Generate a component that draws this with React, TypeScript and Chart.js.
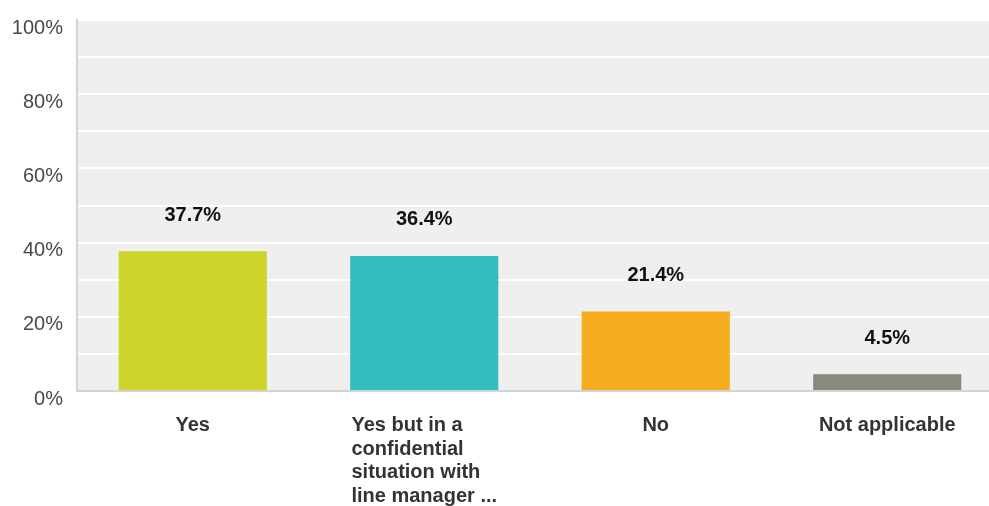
import React, { useEffect, useRef } from "react";
import { Chart, registerables } from "chart.js";

Chart.register(...registerables);

const categories: string[][] = [
  ["Yes"],
  ["Yes but in a", "confidential", "situation with", "line manager ..."],
  ["No"],
  ["Not applicable"],
];
const values: number[] = [37.7, 36.4, 21.4, 4.5];
const barColors: string[] = ["#CDD42A", "#33BDBF", "#F5AD1F", "#898A7A"];
const yTickStep = 10;
const yLabelEvery = 20;

const FONT = "'Liberation Sans', Arial, sans-serif";

const bgPlugin = {
  id: "plotBg",
  beforeDraw(chart: any) {
    const { ctx, chartArea } = chart;
    if (!chartArea) return;
    ctx.save();
    ctx.fillStyle = "#EFEFEF";
    ctx.fillRect(chartArea.left, chartArea.top - 1, chartArea.right - chartArea.left, chartArea.bottom - chartArea.top + 1);
    ctx.restore();
  },
};

const valueLabelPlugin = {
  id: "valueLabels",
  afterDatasetsDraw(chart: any) {
    const { ctx } = chart;
    const meta = chart.getDatasetMeta(0);
    ctx.save();
    ctx.font = `bold 20px ${FONT}`;
    ctx.fillStyle = "#111111";
    ctx.textAlign = "center";
    ctx.textBaseline = "middle";
    meta.data.forEach((el: any, i: number) => {
      const v = chart.data.datasets[0].data[i];
      ctx.fillText(v.toFixed(1) + "%", el.x, el.y - 36);
    });
    ctx.restore();
  },
};

const xLabelPlugin = {
  id: "xLabels",
  afterDraw(chart: any) {
    const { ctx, chartArea } = chart;
    const xs = chart.scales.x;
    const labels: string[][] = chart.data.labels;
    ctx.save();
    ctx.font = `bold 20px ${FONT}`;
    ctx.fillStyle = "#333333";
    ctx.textBaseline = "middle";
    const lineH = 23.5;
    labels.forEach((lines, i) => {
      const cx = xs.getPixelForValue(i);
      const y0 = chartArea.bottom + 34.5;
      if (lines.length > 1) {
        const maxW = Math.max(...lines.map((l) => ctx.measureText(l).width));
        ctx.textAlign = "left";
        lines.forEach((l, k) => ctx.fillText(l, cx - maxW / 2, y0 + k * lineH));
      } else {
        ctx.textAlign = "center";
        ctx.fillText(lines[0], cx, y0);
      }
    });
    ctx.restore();
  },
};

export default function App() {
  const ref = useRef<HTMLCanvasElement | null>(null);
  useEffect(() => {
    if (!ref.current) return;
    const chart = new Chart(ref.current, {
      type: "bar",
      data: {
        labels: categories as any,
        datasets: [
          {
            data: values,
            backgroundColor: barColors,
            categoryPercentage: 0.64,
            barPercentage: 1,
          },
        ],
      },
      options: {
        animation: false,
        responsive: false,
        maintainAspectRatio: false,
        layout: { padding: { left: 0, right: 0, top: 20, bottom: 107 } },
        plugins: { legend: { display: false }, tooltip: { enabled: false } },
        scales: {
          x: {
            grid: { display: false },
            border: { display: true, color: "#D4D4D4", width: 2 },
            ticks: { display: false },
          },
          y: {
            min: 0,
            max: 100,
            afterFit: (s: any) => {
              s.width = 77;
              s.paddingTop = 0;
              s.paddingBottom = 0;
            },
            grid: { color: "#FFFFFF", lineWidth: 2, drawTicks: false },
            border: { display: true, color: "#D4D4D4", width: 2 },
            ticks: {
              stepSize: yTickStep,
              color: "#484848",
              font: { family: FONT, size: 20 },
              padding: 14,
              labelOffset: 8,
              callback: (v: any) => (Number(v) % yLabelEvery === 0 ? v + "%" : ""),
            },
          },
        },
      },
      plugins: [bgPlugin, valueLabelPlugin, xLabelPlugin],
    });
    return () => chart.destroy();
  }, []);
  return (
    <div style={{ position: "fixed", left: 0, top: 0, width: 989, height: 506, overflow: "hidden", background: "#fff" }}>
      <canvas ref={ref} width={1003} height={506} style={{ width: 1003, height: 506, display: "block" }} />
    </div>
  );
}
